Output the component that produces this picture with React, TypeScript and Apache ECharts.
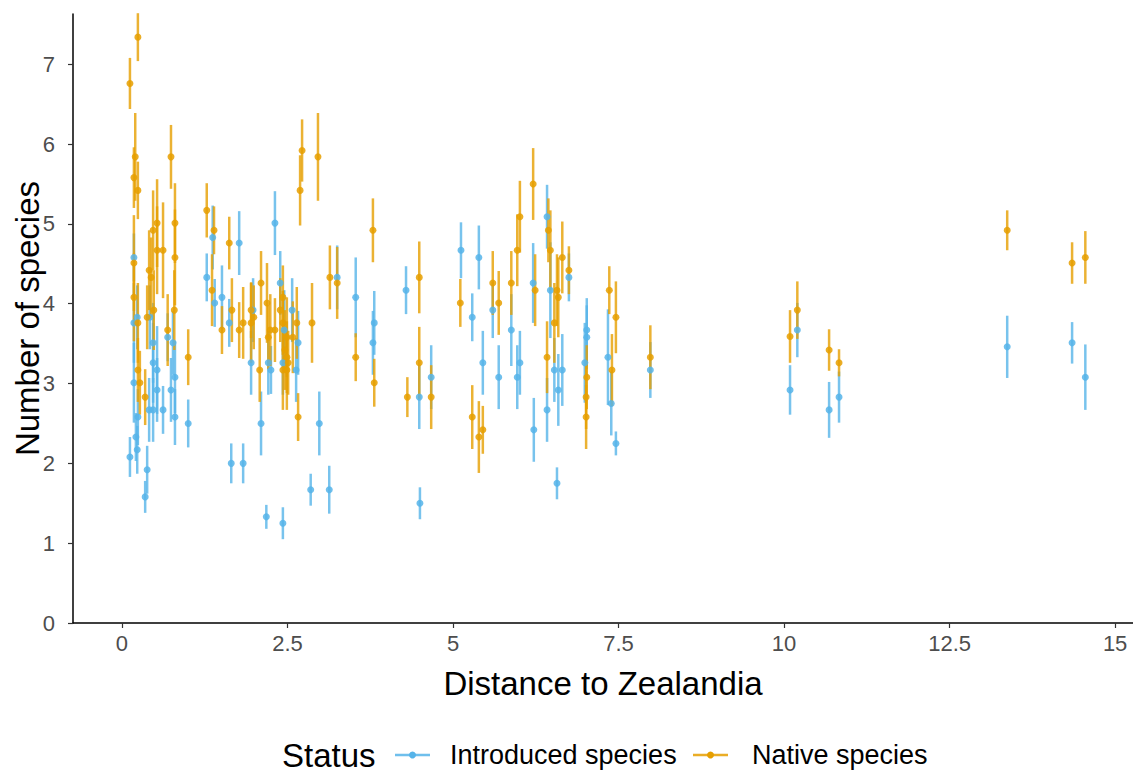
import React, { useEffect, useRef } from "react";
import * as echarts from "echarts";

// [distance, mean number of species, error half-width]
const introduced: [number, number, number][] = [
  [0.12, 2.08, 0.25], [0.18, 4.58, 0.3], [0.21, 2.33, 0.3], [0.23, 2.17, 0.3],
  [0.18, 3.01, 0.5], [0.24, 2.58, 0.35], [0.35, 1.58, 0.2], [0.38, 1.92, 0.3],
  [0.41, 2.67, 0.4], [0.47, 2.67, 0.4], [0.47, 3.26, 0.5], [0.53, 3.17, 0.55],
  [0.23, 3.83, 0.4], [0.42, 3.83, 0.4], [0.47, 3.51, 0.5], [0.53, 2.92, 0.4],
  [0.62, 2.67, 0.3], [0.74, 2.92, 0.4], [0.77, 3.51, 0.4], [0.8, 3.08, 0.45],
  [0.8, 2.58, 0.35], [1.0, 2.5, 0.3], [0.69, 3.58, 0.3], [0.18, 3.76, 0.5],
  [1.28, 4.33, 0.3], [1.51, 4.08, 0.4], [1.37, 4.83, 0.4], [1.77, 4.76, 0.4],
  [1.4, 4.01, 0.3], [1.62, 3.76, 0.3], [1.65, 2.0, 0.25], [1.83, 2.0, 0.25],
  [1.95, 3.26, 0.4], [1.98, 3.92, 0.4], [2.1, 2.5, 0.4], [2.18, 1.33, 0.15],
  [2.31, 5.01, 0.4], [2.43, 1.25, 0.2], [2.21, 3.26, 0.4], [2.25, 3.17, 0.3],
  [2.39, 4.26, 0.4], [2.57, 3.92, 0.4], [2.45, 3.67, 0.5], [2.66, 3.51, 0.4],
  [2.43, 3.26, 0.4], [2.63, 3.17, 0.4], [2.85, 1.67, 0.2], [3.13, 1.67, 0.3],
  [2.98, 2.5, 0.4], [3.25, 4.33, 0.4], [3.53, 4.08, 0.5], [3.81, 3.76, 0.4],
  [3.79, 3.51, 0.4], [4.29, 4.17, 0.3], [4.67, 3.08, 0.4], [4.49, 2.83, 0.4],
  [4.5, 1.5, 0.2], [5.12, 4.67, 0.35], [5.39, 4.58, 0.4], [5.29, 3.83, 0.3],
  [5.6, 3.92, 0.35], [5.88, 3.67, 0.45], [5.45, 3.26, 0.4], [5.69, 3.08, 0.4],
  [5.97, 3.08, 0.4], [6.01, 3.26, 0.4], [6.21, 4.26, 0.5], [6.22, 2.42, 0.4],
  [6.42, 2.67, 0.4], [6.42, 5.09, 0.4], [6.47, 4.17, 0.6], [6.53, 3.17, 0.4],
  [6.59, 2.92, 0.45], [6.65, 3.17, 0.45], [6.57, 1.75, 0.2], [6.75, 4.33, 0.3],
  [7.02, 3.67, 0.4], [7.02, 3.58, 0.4], [6.99, 3.26, 0.5], [7.34, 3.33, 0.6],
  [7.39, 2.75, 0.4], [7.46, 2.25, 0.15], [7.98, 3.17, 0.35], [10.09, 2.92, 0.31],
  [10.2, 3.67, 0.34], [10.68, 2.67, 0.35], [10.83, 2.83, 0.32], [13.37, 3.46, 0.39],
  [14.35, 3.51, 0.26], [14.55, 3.08, 0.41],
];

const native: [number, number, number][] = [
  [0.12, 6.76, 0.32], [0.24, 7.34, 0.3], [0.2, 5.84, 0.55], [0.18, 5.58, 0.38],
  [0.24, 5.42, 0.36], [0.74, 5.84, 0.4], [2.72, 5.92, 0.39], [2.69, 5.42, 0.44],
  [2.96, 5.84, 0.55], [1.28, 5.17, 0.34], [1.39, 4.92, 0.3], [1.62, 4.76, 0.33],
  [0.8, 5.01, 0.5], [0.53, 5.01, 0.55], [0.47, 4.92, 0.5], [0.53, 4.67, 0.55],
  [0.62, 4.67, 0.6], [0.8, 4.58, 0.6], [0.18, 4.51, 0.6], [0.41, 4.42, 0.5],
  [0.44, 4.33, 0.5], [0.18, 4.08, 0.55], [1.36, 4.17, 0.45], [2.1, 4.26, 0.4],
  [2.19, 4.01, 0.5], [2.43, 4.08, 0.4], [0.48, 3.92, 0.5], [0.79, 3.92, 0.5],
  [0.38, 3.83, 0.4], [0.24, 3.76, 0.5], [0.69, 3.67, 0.45], [1.0, 3.33, 0.35],
  [0.24, 3.17, 0.4], [0.27, 3.01, 0.4], [0.35, 2.83, 0.35], [1.66, 3.92, 0.4],
  [1.51, 3.67, 0.3], [1.77, 3.67, 0.35], [1.83, 3.76, 0.45], [1.95, 3.76, 0.5],
  [1.99, 3.83, 0.4], [1.95, 3.92, 0.35], [2.39, 3.92, 0.4], [2.24, 3.67, 0.45],
  [2.31, 3.67, 0.4], [2.43, 3.76, 0.4], [2.64, 3.76, 0.45], [2.87, 3.76, 0.5],
  [2.58, 3.58, 0.45], [2.49, 3.58, 0.5], [2.21, 3.58, 0.4], [2.46, 3.42, 0.5],
  [2.49, 3.33, 0.45], [2.08, 3.17, 0.4], [2.43, 3.17, 0.5], [2.49, 3.17, 0.5],
  [2.51, 3.26, 0.4], [2.66, 2.58, 0.3], [3.14, 4.33, 0.4], [3.25, 4.26, 0.45],
  [3.79, 4.92, 0.4], [3.53, 3.33, 0.3], [3.81, 3.01, 0.3], [4.49, 4.33, 0.45],
  [4.49, 3.26, 0.45], [4.31, 2.83, 0.25], [4.67, 2.83, 0.4], [5.11, 4.01, 0.3],
  [5.29, 2.58, 0.4], [5.39, 2.33, 0.45], [5.45, 2.42, 0.3], [5.6, 4.26, 0.4],
  [5.69, 4.01, 0.4], [5.88, 4.26, 0.4], [5.97, 4.67, 0.45], [6.01, 5.09, 0.45],
  [6.21, 5.5, 0.45], [6.24, 4.17, 0.45], [6.44, 4.92, 0.4], [6.47, 4.67, 0.5],
  [6.65, 4.58, 0.45], [6.75, 4.42, 0.3], [6.57, 4.17, 0.45], [6.59, 4.08, 0.5],
  [6.53, 3.76, 0.5], [6.42, 3.33, 0.45], [7.02, 3.08, 0.4], [7.01, 2.83, 0.4],
  [7.01, 2.58, 0.4], [7.36, 4.17, 0.3], [7.46, 3.83, 0.45], [7.4, 3.17, 0.45],
  [7.98, 3.33, 0.4], [10.09, 3.59, 0.33], [10.2, 3.92, 0.36], [10.68, 3.42, 0.26],
  [10.83, 3.26, 0.17], [13.37, 4.92, 0.25], [14.35, 4.51, 0.26], [14.55, 4.58, 0.33],
];

const xTicks = [0, 2.5, 5, 7.5, 10, 12.5, 15];
const yTicks = [0, 1, 2, 3, 4, 5, 6, 7];
const seriesNames = ["Introduced species", "Native species"];
const colors = ["#56B4E9", "#E69F00"];

const FONT = "'Liberation Sans', Arial, sans-serif";

function errorSeries(data: [number, number, number][], color: string) {
  return {
    type: "custom",
    clip: false,
    data: data.map((d) => [d[0], d[1] - d[2], d[1] + d[2]]),
    encode: { x: 0, y: [1, 2] },
    renderItem: (_params: any, api: any) => {
      const p1 = api.coord([api.value(0), api.value(1)]);
      const p2 = api.coord([api.value(0), api.value(2)]);
      return {
        type: "line",
        shape: { x1: p1[0], y1: p1[1], x2: p2[0], y2: p2[1] },
        style: { stroke: color, lineWidth: 2.5, opacity: 0.8 },
      };
    },
    silent: true,
  };
}

function pointSeries(name: string, data: [number, number, number][], color: string) {
  return {
    type: "scatter",
    name,
    data: data.map((d) => [d[0], d[1]]),
    symbolSize: 7,
    itemStyle: { color, opacity: 0.85 },
    clip: false,
  };
}

export default function App() {
  const ref = useRef<HTMLDivElement>(null);
  useEffect(() => {
    if (!ref.current) return;
    const chart = echarts.init(ref.current, undefined, { renderer: "svg" });
    const legendY = 755;
    chart.setOption({
      animation: false,
      backgroundColor: "#fff",
      grid: { left: 73, top: 14, width: 1060, height: 609, containLabel: false, outerBoundsMode: "none" },
      xAxis: {
        type: "value",
        min: -0.74,
        max: 15.27,
        splitLine: { show: false },
        axisLine: { show: true, onZero: false, lineStyle: { color: "#000", width: 1.5 } },
        axisTick: { show: true, customValues: xTicks, length: 5, lineStyle: { color: "#333", width: 1.2 } },
        axisLabel: {
          customValues: xTicks,
          fontSize: 22,
          color: "#4D4D4D",
          fontFamily: FONT,
          margin: 9,
          formatter: (v: number) => String(v),
        },
        name: "Distance to Zealandia",
        nameLocation: "middle",
        nameGap: 44,
        nameMoveOverlap: false,
        nameTextStyle: { fontSize: 33, color: "#000", fontFamily: FONT },
      },
      yAxis: {
        type: "value",
        min: 0,
        max: 7.63,
        splitLine: { show: false },
        axisLine: { show: true, onZero: false, lineStyle: { color: "#000", width: 1.5 } },
        axisTick: { show: true, customValues: yTicks, length: 5, lineStyle: { color: "#333", width: 1.2 } },
        axisLabel: {
          customValues: yTicks,
          fontSize: 22,
          color: "#4D4D4D",
          fontFamily: FONT,
          margin: 18,
        },
        name: "Number of species",
        nameLocation: "middle",
        nameRotate: 90,
        nameGap: 29,
        nameMoveOverlap: false,
        nameTextStyle: { fontSize: 33, color: "#000", fontFamily: FONT },
      },
      graphic: [
        { type: "text", x: 282, y: legendY, style: { text: "Status", fontSize: 33, fontFamily: FONT, fill: "#000", verticalAlign: "middle" } },
        { type: "line", shape: { x1: 395, y1: legendY, x2: 430, y2: legendY }, style: { stroke: colors[0], lineWidth: 2.5, opacity: 0.85 } },
        { type: "circle", shape: { cx: 412.5, cy: legendY, r: 3.5 }, style: { fill: colors[0] } },
        { type: "text", x: 450, y: legendY, style: { text: seriesNames[0], fontSize: 27, fontFamily: FONT, fill: "#000", verticalAlign: "middle" } },
        { type: "line", shape: { x1: 693, y1: legendY, x2: 728, y2: legendY }, style: { stroke: colors[1], lineWidth: 2.5, opacity: 0.85 } },
        { type: "circle", shape: { cx: 710.5, cy: legendY, r: 3.5 }, style: { fill: colors[1] } },
        { type: "text", x: 752, y: legendY, style: { text: seriesNames[1], fontSize: 27, fontFamily: FONT, fill: "#000", verticalAlign: "middle" } },
      ],
      series: [
        errorSeries(introduced, colors[0]),
        pointSeries(seriesNames[0], introduced, colors[0]),
        errorSeries(native, colors[1]),
        pointSeries(seriesNames[1], native, colors[1]),
      ],
    });
    return () => chart.dispose();
  }, []);
  return <div ref={ref} style={{ position: "fixed", left: 0, top: 0, width: 1133, height: 772 }} />;
}
